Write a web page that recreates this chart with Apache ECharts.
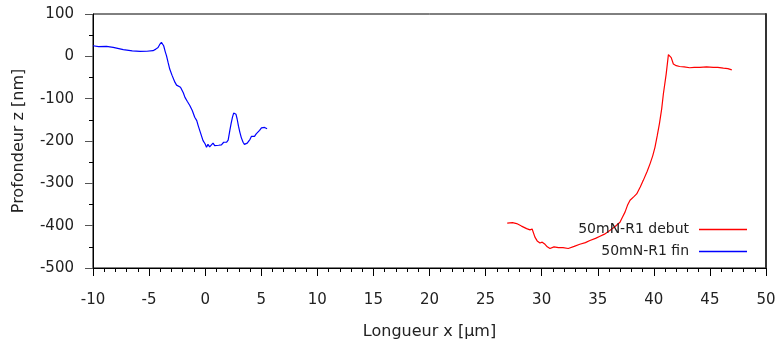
<!DOCTYPE html>
<html>
<head>
<meta charset="utf-8">
<script src="https://cdn.jsdelivr.net/npm/echarts@6/dist/echarts.min.js"></script>
<style>html,body{margin:0;padding:0;background:#fff}#c{width:781px;height:345px}</style>
</head>
<body>
<div id="c"></div>
<script>
var seriesNames = ['50mN-R1 debut', '50mN-R1 fin'];
var xTitle = 'Longueur x [µm]';
var yTitle = 'Profondeur z [nm]';

var finX = [-10, -9.5, -8.8, -8.2, -7.3, -6.5, -5.8, -5.2, -4.65, -4.4, -4.2, -4.05, -3.9, -3.7, -3.55, -3.45, -3.3, -3.16, -2.95, -2.7, -2.55, -2.4, -2.2, -2.1, -1.95, -1.8, -1.6, -1.37, -1.15, -0.93, -0.75, -0.63, -0.4, -0.19, 0.0, 0.12, 0.25, 0.4, 0.56, 0.7, 0.85, 1.0, 1.2, 1.45, 1.65, 1.9, 2.05, 2.2, 2.32, 2.43, 2.54, 2.64, 2.75, 2.85, 2.97, 3.09, 3.22, 3.38, 3.5, 3.62, 3.75, 3.9, 4.0, 4.13, 4.25, 4.4, 4.55, 4.72, 4.85, 5.02, 5.15, 5.3, 5.42, 5.52];
var finY = [25, 23, 23.6, 21, 15.8, 13, 11.8, 12, 13.4, 17, 21, 28, 33, 25, 10, 1.6, -15, -30, -45, -61, -68, -69, -73, -77, -86, -97, -106, -116, -128, -144, -152, -163, -182, -199, -207, -215, -208, -214, -211, -205, -211, -207, -210, -209, -203, -203, -198, -175, -158, -144, -134, -132, -137, -148, -165, -179, -192, -203, -208, -211, -205, -203, -196, -189, -191, -189, -183, -179, -175, -169, -173, -168, -166, -171];

var debutX = [26.93, 27.4, 27.77, 28.2, 28.66, 28.96, 29.15, 29.4, 29.6, 29.85, 30.05, 30.3, 30.5, 30.74, 31.1, 31.5, 31.9, 32.37, 32.9, 33.4, 33.9, 34.3, 34.8, 35.2, 35.6, 36.1, 36.55, 36.98, 37.2, 37.43, 37.65, 37.88, 38.2, 38.47, 38.8, 39.06, 39.4, 39.66, 39.9, 40.1, 40.3, 40.5, 40.7, 40.85, 41.1, 41.3, 41.42, 41.55, 41.74, 42.0, 42.3, 42.7, 43.2, 43.6, 44.1, 44.7, 45.3, 45.7, 46.2, 46.6, 46.95];
var debutY = [-394, -393, -395, -401, -407, -410, -408, -427, -436, -441, -439, -444, -450, -454, -450, -452, -452, -454, -449, -444, -440, -435, -430, -425, -420, -411, -402, -392, -380, -368, -352, -340, -332, -325, -308, -293, -272, -254, -235, -215, -188, -159, -124, -89, -42, 4, 1, -3, -18, -22, -24, -25, -27, -26, -26, -25, -26, -26, -28, -29, -32];

function pairs(xs, ys) { return xs.map(function (x, i) { return [x, ys[i]]; }); }

var FONT = 'DejaVu Sans';
var chart = echarts.init(document.getElementById('c'), null, { renderer: 'canvas' });
chart.setOption({
  animation: false,
  backgroundColor: '#fff',
  grid: { left: 93, right: 15, top: 14, bottom: 77, show: true, borderColor: '#000', borderWidth: 1, backgroundColor: 'transparent' },
  legend: {
    orient: 'vertical', right: 34, top: 221, padding: 0, itemGap: 5,
    itemWidth: 48, itemHeight: 1.5, align: 'right', icon: 'rect',
    textStyle: { fontFamily: FONT, fontSize: 14, color: '#222', padding: [0, 5, 0, 0], lineHeight: 17 },
    data: seriesNames
  },
  xAxis: [{
    type: 'value', min: -10, max: 50, interval: 5,
    name: xTitle, nameLocation: 'middle', nameGap: 56,
    nameTextStyle: { fontFamily: FONT, fontSize: 16, color: '#222' },
    axisLine: { show: true, onZero: false, lineStyle: { color: '#000', width: 1 } },
    axisTick: { show: true, length: 8, lineStyle: { color: '#000' } },
    minorTick: { show: true, splitNumber: 5, length: 4, lineStyle: { color: '#000' } },
    splitLine: { show: false },
    axisLabel: { fontFamily: FONT, fontSize: 15, color: '#222', margin: 25 }
  }],
  yAxis: [{
    type: 'value', min: -500, max: 100, interval: 100,
    name: yTitle, nameLocation: 'middle', nameGap: 66,
    nameTextStyle: { fontFamily: FONT, fontSize: 16, color: '#222' },
    axisLine: { show: true, onZero: false, lineStyle: { color: '#000', width: 1 } },
    axisTick: { show: true, length: 8, lineStyle: { color: '#555' } },
    minorTick: { show: true, splitNumber: 2, length: 4, lineStyle: { color: '#000' } },
    splitLine: { show: false },
    axisLabel: { fontFamily: FONT, fontSize: 15, color: '#222', margin: 19 }
  }, {
    type: 'value', min: -500, max: 100, position: 'right',
    axisLine: { show: true, onZero: false, lineStyle: { color: '#333', width: 2 } },
    axisTick: { show: false }, axisLabel: { show: false }, splitLine: { show: false }
  }],
  series: [{
    name: seriesNames[0], type: 'line', symbol: 'none', showSymbol: false,
    lineStyle: { color: '#ff0000', width: 1.2 }, itemStyle: { color: '#ff0000' },
    data: pairs(debutX, debutY)
  }, {
    name: seriesNames[1], type: 'line', symbol: 'none', showSymbol: false,
    lineStyle: { color: '#0000ff', width: 1.2 }, itemStyle: { color: '#0000ff' },
    data: pairs(finX, finY)
  }]
});
</script>
</body>
</html>
